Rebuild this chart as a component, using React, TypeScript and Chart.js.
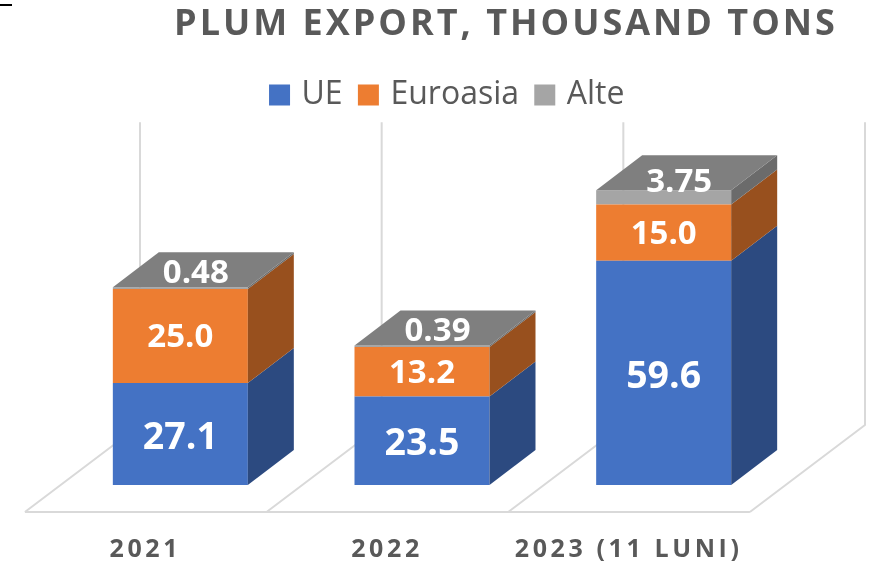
import React, { useEffect, useRef } from "react";
import { Chart, registerables } from "chart.js";

Chart.register(...registerables);

const categories = ["2021", "2022", "2023 (11 LUNI)"];
const ue = [27.1, 23.5, 59.6];
const euroasia = [25.0, 13.2, 15.0];
const alte = [0.48, 0.39, 3.75];
const titleText = "PLUM EXPORT, THOUSAND TONS";
const FONT = "'Open Sans', sans-serif";
const TEXT = "#595959";
const GRID = "#d9d9d9";
const sideColors = ["#2c4a80", "#98501e", "#6b6b6b"];
const BAR_DX = 46;
const BAR_DY = -35;
const FLOOR_FRONT = { dx: -34.6, dy: 27 };
const FLOOR_BACK = { dx: 80.5, dy: -60 };

function spaced(ctx: any, item: any, method: string, spacing: string) {
  if (item.__spaced === method) return;
  const original = item[method];
  item[method] = function (...args: any[]) {
    ctx.save();
    ctx.letterSpacing = spacing;
    original.apply(this, args);
    ctx.restore();
  };
  item.__spaced = method;
}

function tightenLegend(ctx: any, legend: any, shift: number) {
  if (legend.__tight) return;
  const original = legend.draw;
  legend.draw = function (...args: any[]) {
    const fill = ctx.fillText;
    ctx.fillText = (t: string, x: number, y: number, m?: number) =>
      m === undefined ? fill.call(ctx, t, x - shift, y) : fill.call(ctx, t, x - shift, y, m);
    original.apply(this, args);
    delete ctx.fillText;
  };
  legend.__tight = true;
}

const placement = {
  id: "placement",
  afterLayout(chart: any) {
    const title = chart.titleBlock;
    title.left += 84;
    title.right += 84;
    const legend = chart.legend;
    legend.left += 27;
    legend.right += 27;
    const h = legend.height;
    legend.top = 68.25;
    legend.bottom = 68.25 + h;
    spaced(chart.ctx, title, "draw", "3px");
    spaced(chart.ctx, chart.scales.x, "drawLabels", "3.6px");
    tightenLegend(chart.ctx, legend, 4.5);
  },
};

const box3d = {
  id: "box3d",
  beforeDatasetsDraw(chart: any) {
    const { ctx, chartArea, scales } = chart;
    const y0 = scales.y.getPixelForValue(0);
    const yMax = scales.y.getPixelForValue(scales.y.max);
    const n = categories.length;
    const step = chartArea.width / n;
    ctx.save();
    ctx.fillStyle = "#000";
    ctx.fillRect(0, 4, 12, 2);
    ctx.strokeStyle = GRID;
    ctx.lineWidth = 2;
    ctx.lineJoin = "round";
    ctx.beginPath();
    ctx.moveTo(chartArea.left + FLOOR_FRONT.dx, y0 + FLOOR_FRONT.dy);
    ctx.lineTo(chartArea.right + FLOOR_FRONT.dx, y0 + FLOOR_FRONT.dy);
    for (let i = 0; i <= n; i++) {
      const x = chartArea.left + i * step;
      ctx.moveTo(x + FLOOR_FRONT.dx, y0 + FLOOR_FRONT.dy);
      ctx.lineTo(x + FLOOR_BACK.dx, y0 + FLOOR_BACK.dy);
      ctx.lineTo(x + FLOOR_BACK.dx, yMax + FLOOR_BACK.dy);
    }
    ctx.stroke();
    ctx.restore();
  },
  afterDatasetsDraw(chart: any) {
    const { ctx } = chart;
    ctx.save();
    chart.data.datasets.forEach((_: any, d: number) => {
      const bars = chart.getDatasetMeta(d).data;
      bars.forEach((bar: any) => {
        const right = bar.x + bar.width / 2;
        const left = bar.x - bar.width / 2;
        ctx.fillStyle = sideColors[d];
        ctx.beginPath();
        ctx.moveTo(right, bar.y);
        ctx.lineTo(right + BAR_DX, bar.y + BAR_DY);
        ctx.lineTo(right + BAR_DX, bar.base + BAR_DY);
        ctx.lineTo(right, bar.base);
        ctx.closePath();
        ctx.fill();
        if (d === chart.data.datasets.length - 1) {
          ctx.fillStyle = "#7f7f7f";
          ctx.beginPath();
          ctx.moveTo(left, bar.y);
          ctx.lineTo(left + BAR_DX, bar.y + BAR_DY);
          ctx.lineTo(right + BAR_DX, bar.y + BAR_DY);
          ctx.lineTo(right, bar.y);
          ctx.closePath();
          ctx.fill();
        }
      });
    });
    ctx.fillStyle = "#ffffff";
    ctx.textAlign = "center";
    ctx.textBaseline = "middle";
    chart.data.datasets.forEach((ds: any, d: number) => {
      const bars = chart.getDatasetMeta(d).data;
      bars.forEach((bar: any, i: number) => {
        const value = ds.data[i];
        const isTop = d === 2;
        ctx.font = `bold ${d === 0 ? 37.5 : 33}px ${FONT}`;
        const cx = bar.x + (isTop ? 15.5 : 0);
        const cy = (bar.y + bar.base) / 2 + (isTop ? -15 : d === 0 ? 4 : 2);
        ctx.fillText(value.toFixed(isTop ? 2 : 1), cx, cy);
      });
    });
    ctx.restore();
  },
};

export default function App() {
  const ref = useRef<HTMLCanvasElement | null>(null);
  useEffect(() => {
    if (!ref.current) return;
    const common = { barPercentage: 135 / 241.67, categoryPercentage: 1, borderWidth: 0 };
    const chart = new Chart(ref.current, {
      type: "bar",
      data: {
        labels: categories,
        datasets: [
          { label: "UE", data: ue, backgroundColor: "#4472c4", ...common },
          { label: "Euroasia", data: euroasia, backgroundColor: "#ed7d31", ...common },
          { label: "Alte", data: alte, backgroundColor: "#a5a5a5", ...common },
        ],
      },
      plugins: [placement, box3d],
      options: {
        animation: false,
        responsive: false,
        layout: { padding: { left: 59.5, right: 89.5, top: 0, bottom: 0 } },
        plugins: {
          tooltip: { enabled: false },
          title: {
            display: true,
            text: titleText,
            color: TEXT,
            font: { family: FONT, size: 36, weight: "bold", lineHeight: 1.2 },
            padding: { top: 3.5, bottom: 82.8 },
          },
          legend: {
            display: true,
            position: "top",
            labels: {
              color: TEXT,
              font: { family: FONT, size: 32 },
              boxWidth: 21,
              boxHeight: 21,
              padding: 10.75,
            },
          },
        },
        scales: {
          x: {
            stacked: true,
            afterFit(scale: any) {
              scale.height = 79;
            },
            grid: { display: false, drawTicks: false },
            border: { display: false },
            ticks: {
              color: TEXT,
              font: { family: FONT, size: 25, weight: "bold" },
              maxRotation: 0,
              autoSkip: false,
              labelOffset: -35,
              padding: 50,
            },
          },
          y: {
            stacked: true,
            display: false,
            min: 0,
            max: 80.5,
          },
        },
      },
    } as any);
    return () => chart.destroy();
  }, []);
  return (
    <div style={{ position: "absolute", left: 0, top: 0, width: 874, height: 564 }}>
      <canvas ref={ref} width={874} height={564} style={{ display: "block" }} />
    </div>
  );
}
